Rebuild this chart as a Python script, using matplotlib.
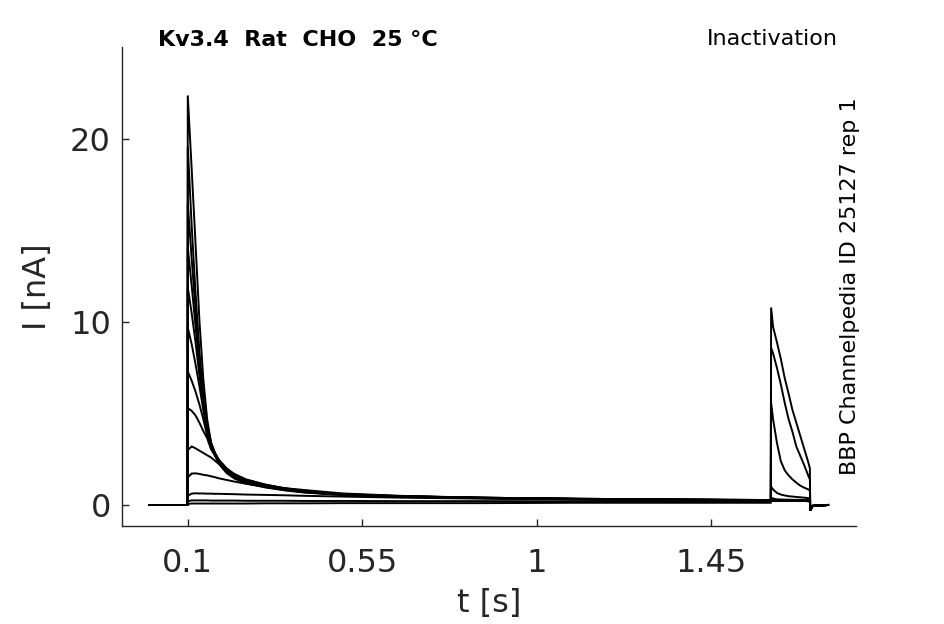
import matplotlib
matplotlib.use("Agg")
import matplotlib.pyplot as plt

plt.rcParams['font.family'] = ['DejaVu Sans']

# ---- data ----
t_base = [0.0, 0.0995]
i_base = [0.0, 0.0]

t_pre = [0.1, 0.11, 0.12, 0.13, 0.14, 0.15, 0.16, 0.17, 0.18, 0.2, 0.22, 0.25,
         0.3, 0.35, 0.4, 0.5, 0.65, 0.85, 1.1, 1.35, 1.604]

pre_traces = [
    [22.4, 18.4, 14.3, 10.1, 6.9, 4.7, 3.4, 2.7, 2.25, 1.75, 1.45, 1.18, 0.96, 0.8, 0.68, 0.54, 0.44, 0.37, 0.31, 0.27, 0.24],
    [19.6, 15.3, 11.6, 8.4, 6.0, 4.4, 3.4, 2.75, 2.3, 1.8, 1.48, 1.2, 0.98, 0.82, 0.7, 0.55, 0.45, 0.38, 0.32, 0.28, 0.25],
    [16.5, 13.5, 10.6, 7.9, 5.8, 4.3, 3.4, 2.8, 2.35, 1.85, 1.52, 1.23, 1.0, 0.84, 0.71, 0.56, 0.46, 0.38, 0.32, 0.28, 0.25],
    [14.1, 12.0, 9.8, 7.6, 5.6, 4.2, 3.4, 2.85, 2.4, 1.9, 1.56, 1.27, 1.02, 0.85, 0.72, 0.57, 0.46, 0.39, 0.33, 0.29, 0.26],
    [11.9, 10.5, 8.9, 7.1, 5.4, 4.1, 3.35, 2.85, 2.45, 1.95, 1.6, 1.3, 1.05, 0.87, 0.73, 0.57, 0.47, 0.39, 0.33, 0.29, 0.26],
    [9.7, 8.8, 7.7, 6.5, 5.2, 4.0, 3.3, 2.85, 2.47, 1.98, 1.63, 1.33, 1.07, 0.88, 0.74, 0.58, 0.47, 0.39, 0.33, 0.29, 0.26],
    [7.3, 6.8, 6.2, 5.5, 4.7, 3.8, 3.2, 2.8, 2.47, 2.0, 1.66, 1.36, 1.09, 0.9, 0.75, 0.58, 0.47, 0.4, 0.34, 0.3, 0.27],
    [5.3, 5.15, 4.9, 4.5, 4.05, 3.65, 3.05, 2.7, 2.42, 2.0, 1.68, 1.38, 1.1, 0.9, 0.76, 0.59, 0.48, 0.4, 0.34, 0.3, 0.27],
    [3.0, 3.2, 3.1, 2.97, 2.85, 2.72, 2.6, 2.42, 2.25, 1.95, 1.7, 1.4, 1.12, 0.92, 0.77, 0.6, 0.48, 0.4, 0.34, 0.3, 0.27],
    [1.5, 1.72, 1.73, 1.7, 1.65, 1.62, 1.57, 1.52, 1.46, 1.37, 1.28, 1.16, 1.0, 0.92, 0.82, 0.63, 0.5, 0.4, 0.33, 0.29, 0.26],
    [0.5, 0.62, 0.64, 0.63, 0.63, 0.62, 0.62, 0.61, 0.61, 0.6, 0.59, 0.57, 0.55, 0.53, 0.5, 0.46, 0.4, 0.35, 0.3, 0.27, 0.25],
    [0.2, 0.25, 0.25, 0.25, 0.25, 0.25, 0.24, 0.24, 0.24, 0.24, 0.24, 0.23, 0.23, 0.23, 0.22, 0.22, 0.21, 0.21, 0.2, 0.2, 0.2],
    [0.05, 0.08, 0.08, 0.08, 0.08, 0.08, 0.08, 0.08, 0.08, 0.08, 0.08, 0.08, 0.09, 0.09, 0.09, 0.1, 0.1, 0.1, 0.12, 0.12, 0.12],
]

t_test = [1.605, 1.61, 1.62, 1.63, 1.64, 1.65, 1.66, 1.67, 1.68, 1.69, 1.7, 1.705]

test_traces = [
    [0.25, 0.24, 0.24, 0.23, 0.23, 0.23, 0.22, 0.22, 0.22, 0.22, 0.21, 0.21],
    [0.25, 0.24, 0.24, 0.23, 0.23, 0.23, 0.22, 0.22, 0.22, 0.22, 0.21, 0.21],
    [0.25, 0.24, 0.24, 0.23, 0.23, 0.23, 0.22, 0.22, 0.22, 0.22, 0.21, 0.21],
    [0.25, 0.25, 0.24, 0.24, 0.23, 0.23, 0.23, 0.22, 0.22, 0.22, 0.22, 0.22],
    [0.26, 0.25, 0.25, 0.24, 0.24, 0.23, 0.23, 0.23, 0.22, 0.22, 0.22, 0.22],
    [0.26, 0.25, 0.25, 0.24, 0.24, 0.24, 0.23, 0.23, 0.23, 0.22, 0.22, 0.22],
    [0.27, 0.26, 0.25, 0.25, 0.24, 0.24, 0.24, 0.23, 0.23, 0.23, 0.22, 0.22],
    [0.28, 0.27, 0.26, 0.25, 0.25, 0.24, 0.24, 0.24, 0.23, 0.23, 0.23, 0.23],
    [0.4, 0.35, 0.31, 0.3, 0.29, 0.29, 0.28, 0.28, 0.28, 0.27, 0.27, 0.27],
    [1.0, 0.85, 0.66, 0.57, 0.52, 0.48, 0.46, 0.44, 0.42, 0.4, 0.38, 0.37],
    [5.6, 4.7, 3.4, 2.4, 1.9, 1.62, 1.4, 1.22, 1.06, 0.95, 0.86, 0.8],
    [8.6, 8.3, 7.5, 6.6, 5.6, 4.7, 4.0, 3.2, 2.7, 2.2, 1.65, 1.4],
    [10.8, 9.75, 8.9, 8.0, 6.95, 6.1, 5.2, 4.5, 3.8, 3.1, 2.4, 2.0],
]

t_tail = [1.706, 1.712, 1.752]
i_tail = [-0.3, -0.05, 0.0]

xticks = [0.1, 0.55, 1, 1.45]
xticklabels = ["0.1", "0.55", "1", "1.45"]
yticks = [0, 10, 20]
yticklabels = ["0", "10", "20"]

# ---- figure ----
fig = plt.figure(figsize=(9.45, 6.24), dpi=100)
ax = fig.add_axes([122 / 945, 98 / 624, (856 - 122) / 945, (526 - 47) / 624])

for pre, test in zip(pre_traces, test_traces):
    t = t_base + t_pre + t_test + t_tail
    y = i_base + pre + test + i_tail
    ax.plot(t, y, color='black', lw=1.4, solid_joinstyle='miter')

ax.set_xlim(-0.0697, 1.824)
ax.set_ylim(-1.15, 25.05)
ax.set_xticks(xticks)
ax.set_xticklabels(xticklabels)
ax.set_yticks(yticks)
ax.set_yticklabels(yticklabels)

for side in ['top', 'right']:
    ax.spines[side].set_visible(False)
for side in ['left', 'bottom']:
    ax.spines[side].set_color('#262626')
    ax.spines[side].set_linewidth(1.0)

ax.tick_params(direction='in', length=5, width=1.0, colors='#262626',
               labelsize=23, labelcolor='#262626')
ax.tick_params(axis='x', pad=16)
ax.tick_params(axis='y', pad=8)

ax.set_xlabel("t [s]", fontsize=23, color='#262626', labelpad=6)
ax.set_ylabel("I [nA]", fontsize=23, color='#262626', labelpad=12)

fig.text(158 / 945, 1 - 40 / 624, "Kv3.4  Rat  CHO  25 °C", fontsize=16,
         fontweight='bold', ha='left', va='center', color='black')
fig.text(838 / 945, 1 - 39 / 624, "Inactivation", fontsize=16,
         ha='right', va='center', color='black')
fig.text(850 / 945, 1 - 286 / 624, "BBP Channelpedia ID 25127 rep 1", fontsize=16,
         rotation=90, ha='center', va='center', color='black')

fig.savefig("out.png", dpi=100)
